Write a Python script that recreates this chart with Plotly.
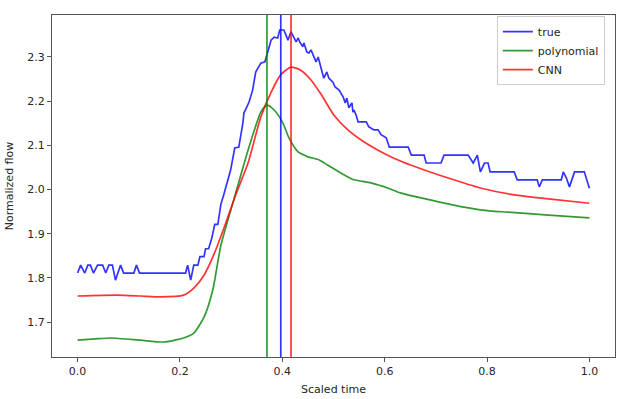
import plotly.graph_objects as go

true_t = [0.000, 0.006, 0.014, 0.020, 0.025, 0.031, 0.039, 0.049, 0.055, 0.061,
          0.068, 0.074, 0.084, 0.090, 0.110, 0.115, 0.121, 0.211, 0.215, 0.221,
          0.227, 0.235, 0.239, 0.247, 0.250, 0.256, 0.262, 0.268, 0.274, 0.280,
          0.286, 0.299, 0.307, 0.315, 0.323, 0.325, 0.335, 0.342, 0.348, 0.358,
          0.366, 0.370, 0.378, 0.384, 0.391, 0.395, 0.403, 0.407, 0.411, 0.417,
          0.423, 0.427, 0.431, 0.434, 0.440, 0.442, 0.448, 0.452, 0.456, 0.462,
          0.466, 0.470, 0.476, 0.481, 0.487, 0.491, 0.499, 0.503, 0.511, 0.519,
          0.523, 0.526, 0.530, 0.536, 0.538, 0.540, 0.544, 0.548, 0.564, 0.569,
          0.579, 0.587, 0.593, 0.603, 0.609, 0.646, 0.652, 0.677, 0.681, 0.710,
          0.716, 0.763, 0.773, 0.781, 0.787, 0.795, 0.802, 0.806, 0.853, 0.859,
          0.898, 0.902, 0.908, 0.945, 0.949, 0.955, 0.961, 0.971, 0.990, 1.000]
true_y = [1.811, 1.829, 1.811, 1.829, 1.829, 1.811, 1.829, 1.829, 1.811, 1.829,
          1.829, 1.795, 1.829, 1.811, 1.811, 1.829, 1.811, 1.811, 1.829, 1.795,
          1.829, 1.829, 1.848, 1.848, 1.866, 1.866, 1.889, 1.921, 1.921, 1.967,
          1.990, 2.044, 2.094, 2.096, 2.151, 2.173, 2.198, 2.225, 2.266, 2.286,
          2.289, 2.305, 2.338, 2.345, 2.343, 2.361, 2.361, 2.350, 2.338, 2.357,
          2.343, 2.334, 2.343, 2.334, 2.323, 2.332, 2.311, 2.309, 2.316, 2.300,
          2.289, 2.300, 2.271, 2.252, 2.266, 2.252, 2.243, 2.232, 2.225, 2.209,
          2.196, 2.207, 2.185, 2.196, 2.175, 2.180, 2.169, 2.153, 2.153, 2.142,
          2.135, 2.135, 2.124, 2.117, 2.096, 2.096, 2.078, 2.078, 2.060, 2.060,
          2.078, 2.078, 2.060, 2.078, 2.040, 2.060, 2.060, 2.040, 2.040, 2.022,
          2.022, 2.006, 2.022, 2.022, 2.040, 2.026, 2.006, 2.040, 2.040, 2.003]

poly_t = [0.000, 0.035, 0.065, 0.123, 0.168, 0.207, 0.227, 0.247, 0.264, 0.280,
          0.305, 0.333, 0.358, 0.370, 0.384, 0.401, 0.413, 0.431, 0.450, 0.472,
          0.489, 0.515, 0.540, 0.573, 0.607, 0.632, 0.691, 0.755, 0.808, 0.841,
          0.920, 1.000]
poly_y = [1.659, 1.662, 1.664, 1.659, 1.655, 1.664, 1.675, 1.711, 1.772, 1.874,
          1.976, 2.089, 2.175, 2.191, 2.180, 2.151, 2.117, 2.085, 2.074, 2.067,
          2.055, 2.037, 2.022, 2.015, 2.003, 1.992, 1.976, 1.960, 1.951, 1.949,
          1.942, 1.936]

cnn_t = [0.000, 0.078, 0.123, 0.162, 0.207, 0.227, 0.247, 0.266, 0.286, 0.309,
         0.333, 0.358, 0.378, 0.397, 0.417, 0.436, 0.456, 0.476, 0.501, 0.528,
         0.554, 0.587, 0.618, 0.652, 0.724, 0.789, 0.853, 0.920, 1.000]
cnn_y = [1.759, 1.761, 1.759, 1.757, 1.761, 1.777, 1.806, 1.852, 1.913, 1.988,
         2.060, 2.164, 2.220, 2.260, 2.277, 2.270, 2.248, 2.215, 2.168, 2.135,
         2.112, 2.089, 2.071, 2.055, 2.026, 2.003, 1.988, 1.979, 1.969]

# time of peak for each series
peak_true = 0.397
peak_poly = 0.370
peak_cnn = 0.417

_BLUE = "rgba(0,0,255,0.8)"
_GREEN = "rgba(0,128,0,0.8)"
_RED = "rgba(255,0,0,0.8)"
_FRAME = "#555555"
_TEXT = "#262626"

fig = go.Figure()
fig.add_trace(go.Scatter(x=true_t, y=true_y, name="true", mode="lines",
                         line=dict(color=_BLUE, width=1.7)))
fig.add_trace(go.Scatter(x=poly_t, y=poly_y, name="polynomial", mode="lines",
                         line=dict(color=_GREEN, width=1.7, shape="spline", smoothing=0.6)))
fig.add_trace(go.Scatter(x=cnn_t, y=cnn_y, name="CNN", mode="lines",
                         line=dict(color=_RED, width=1.7, shape="spline", smoothing=0.6)))

for t, c in [(peak_poly, _GREEN), (peak_true, _BLUE), (peak_cnn, _RED)]:
    fig.add_shape(type="line", xref="x", yref="paper", x0=t, x1=t, y0=0, y1=1,
                  line=dict(color=c, width=1.7))

axis = dict(showgrid=False, zeroline=False, showline=True, mirror=True,
            linecolor=_FRAME, linewidth=1, ticks="outside", ticklen=4,
            tickwidth=1, tickcolor=_FRAME, tickformat=".1f", automargin=False,
            tickfont=dict(size=11, color=_TEXT),
            title_font=dict(size=11, color=_TEXT))

fig.update_layout(
    width=625, height=399,
    paper_bgcolor="white", plot_bgcolor="white",
    font=dict(family="DejaVu Sans, sans-serif", color=_TEXT, size=11),
    margin=dict(l=52, r=10, t=15, b=42),
    xaxis=dict(axis, range=[-0.05, 1.05], tickvals=[0, 0.2, 0.4, 0.6, 0.8, 1.0],
               title=dict(text="Scaled time", standoff=8)),
    yaxis=dict(axis, range=[1.621, 2.395],
               tickvals=[1.7, 1.8, 1.9, 2.0, 2.1, 2.2, 2.3],
               title=dict(text="Normalized flow", standoff=11)),
    showlegend=True,
    legend=dict(x=0.982, y=0.997, xanchor="right", yanchor="top",
                bgcolor="rgba(255,255,255,0.8)", bordercolor="#cccccc",
                borderwidth=1, font=dict(size=11, color=_TEXT),
                tracegroupgap=0, itemwidth=30),
)

# drop the browser's default body margin so the figure sits at the page origin
fig.write_html("out.html", config={"displayModeBar": False},
               post_script="document.body.style.margin='0';")
